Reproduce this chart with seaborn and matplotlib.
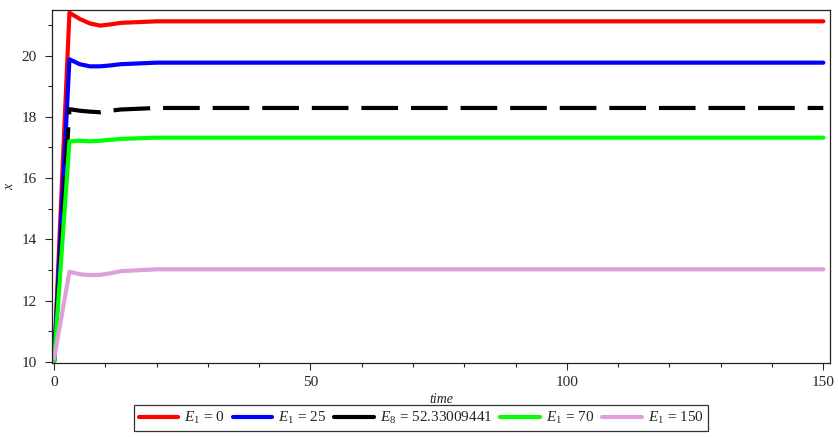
import numpy as np
import pandas as pd
import seaborn as sns
import matplotlib
matplotlib.use("Agg")
import matplotlib.pyplot as plt
from matplotlib.ticker import MultipleLocator

# Time grid of the simulated trajectories
time = [0, 3, 5, 7, 9, 11, 13, 20, 150]

# State x(t) for each value of the effort parameter
x_E0 = [10.0, 21.40, 21.20, 21.05, 20.98, 21.02, 21.07, 21.12, 21.12]
x_E25 = [10.0, 19.88, 19.72, 19.65, 19.65, 19.68, 19.72, 19.77, 19.77]
x_Ed = [10.0, 18.25, 18.20, 18.17, 18.15, 18.20, 18.24, 18.29, 18.29]
x_E70 = [10.0, 17.20, 17.22, 17.20, 17.22, 17.25, 17.28, 17.32, 17.32]
x_E150 = [10.1, 12.94, 12.86, 12.83, 12.84, 12.89, 12.96, 13.02, 13.02]

labels = [r"$E_1$ = 0", r"$E_1$ = 25", r"$E_8$ = 52.33009441",
          r"$E_1$ = 70", r"$E_1$ = 150"]
colors = ["#ff0000", "#0000ff", "#000000", "#00ff00", "#dda0dd"]
series = [x_E0, x_E25, x_Ed, x_E70, x_E150]

sns.set_style("ticks")
plt.rcParams["font.family"] = ["Liberation Serif", "DejaVu Serif"]
plt.rcParams["mathtext.fontset"] = "custom"
plt.rcParams["mathtext.rm"] = "Liberation Serif"
plt.rcParams["mathtext.it"] = "Liberation Serif:italic"

fig = plt.figure(figsize=(8.38, 4.37), dpi=100)
ax = fig.add_axes([52 / 838, 1 - 363 / 437, 778 / 838, 353 / 437])

for vals, lab, col in zip(series, labels, colors):
    df = pd.DataFrame({"time": time, "x": vals})
    style = (0, (8.8, 3.1)) if col == "#000000" else "-"
    sns.lineplot(data=df, x="time", y="x", ax=ax, color=col, lw=3,
                 linestyle=style, label=lab, estimator=None, sort=False)

ax.set_xlim(-0.4, 151.3)
ax.set_ylim(9.96, 21.49)
ax.xaxis.set_major_locator(MultipleLocator(50))
ax.xaxis.set_minor_locator(MultipleLocator(10))
ax.yaxis.set_major_locator(MultipleLocator(2))
ax.yaxis.set_minor_locator(MultipleLocator(1))
ax.tick_params(which="major", length=5, width=0.8, labelsize=11)
ax.tick_params(axis="x", which="major", pad=4)
ax.tick_params(axis="y", which="major", pad=6)
ax.tick_params(which="minor", length=3, width=0.8)
for s in ax.spines.values():
    s.set_visible(True)
    s.set_linewidth(0.9)
    s.set_color("#222222")

ax.set_xlabel("time", fontstyle="italic", fontsize=10, labelpad=3)
ax.set_ylabel("x", fontstyle="italic", fontsize=10, labelpad=4)

ax.legend(loc="center", bbox_to_anchor=(421 / 838, 1 - 418 / 437),
          bbox_transform=fig.transFigure, ncol=5, frameon=True,
          fancybox=False, edgecolor="black", fontsize=11,
          handlelength=2.6, handletextpad=0.4, columnspacing=0.5,
          borderpad=0.3)
leg = ax.get_legend()
leg.get_frame().set_linewidth(0.9)
for h in leg.get_lines():
    h.set_linestyle("-")

fig.savefig("out.png", dpi=100, facecolor="white")
